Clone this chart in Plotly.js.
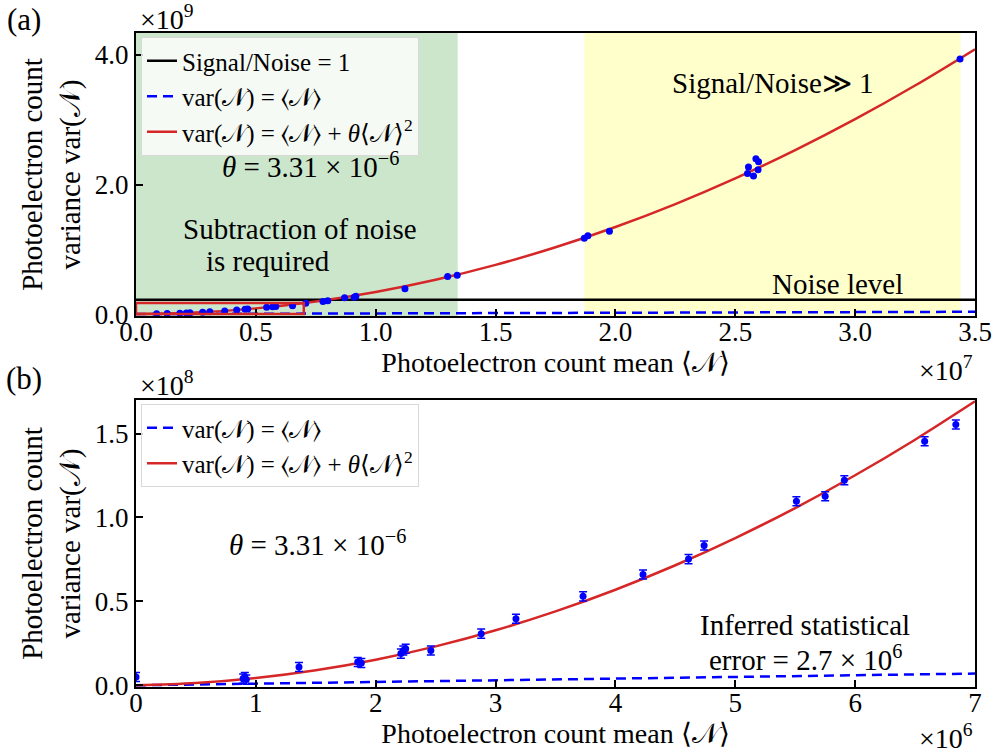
<!DOCTYPE html>
<html>
<head>
<meta charset="utf-8">
<script src="https://cdn.plot.ly/plotly-3.0.1.min.js"></script>
<style>html,body{margin:0;padding:0;background:#fff;}#chart{width:997px;height:755px;}</style>
</head>
<body>
<div id="chart"></div>
<script>
// ---------- Data ----------
// Panel (a): measured mean and variance of photoelectron count
const topMean = [0.086e7, 0.13e7, 0.183e7, 0.21e7, 0.225e7, 0.278e7, 0.308e7, 0.37e7, 0.42e7, 0.455e7, 0.466e7,
  0.545e7, 0.57e7, 0.583e7, 0.653e7, 0.708e7, 0.78e7, 0.80e7, 0.87e7, 0.91e7, 0.917e7, 1.122e7, 1.30e7, 1.34e7,
  1.87e7, 1.885e7, 1.975e7, 2.551e7, 2.576e7, 2.555e7, 2.586e7, 2.597e7, 2.595e7, 3.4375e7];
const topVar = [5e6, 7e6, 1.3e7, 1.7e7, 1.9e7, 2.8e7, 3.4e7, 4.9e7, 6.3e7, 7.3e7, 7.7e7,
  1.04e8, 1.13e8, 1.18e8, 1.30e8, 1.68e8, 1.95e8, 2.05e8, 2.5e8, 2.6e8, 2.75e8, 3.9e8, 5.8e8, 6.0e8,
  1.17e9, 1.21e9, 1.28e9, 2.17e9, 2.13e9, 2.27e9, 2.40e9, 2.35e9, 2.23e9, 3.94e9];
// Panel (a): fitted curve var = <N> + theta <N>^2
const topFitX = [0, 0.25e7, 0.5e7, 0.75e7, 1.0e7, 1.25e7, 1.5e7, 1.75e7, 2.0e7, 2.25e7, 2.5e7, 2.75e7, 3.0e7, 3.25e7, 3.5e7];
const topFitY = [0, 2.32e7, 8.78e7, 1.937e8, 3.41e8, 5.297e8, 7.598e8, 1.031e9, 1.344e9, 1.698e9, 2.094e9, 2.531e9, 3.009e9, 3.529e9, 4.090e9];
// Poisson line var = <N>
const topPoisX = [0, 3.5e7];
const topPoisY = [0, 3.5e7];
// Noise level (Signal/Noise = 1)
const noiseX = [0, 3.5e7];
const noiseY = [2.2e8, 2.2e8];

// Panel (b): zoomed measurements with error bars
const botMean = [0.0, 0.894e6, 0.908e6, 0.92e6, 1.36e6, 1.85e6, 1.88e6, 2.21e6, 2.23e6, 2.25e6, 2.46e6, 2.88e6,
  3.17e6, 3.73e6, 4.23e6, 4.61e6, 4.74e6, 5.51e6, 5.75e6, 5.91e6, 6.58e6, 6.84e6];
const botVar = [5e6, 4.0e6, 5.0e6, 3.4e6, 1.09e7, 1.39e7, 1.33e7, 1.89e7, 2.08e7, 2.18e7, 2.08e7, 3.08e7,
  3.97e7, 5.30e7, 6.60e7, 7.52e7, 8.33e7, 1.097e8, 1.127e8, 1.222e8, 1.454e8, 1.554e8];
const statError = 2.7e6;
const botFitX = [0, 0.5e6, 1.0e6, 1.5e6, 2.0e6, 2.5e6, 3.0e6, 3.5e6, 4.0e6, 4.5e6, 5.0e6, 5.5e6, 6.0e6, 6.5e6, 7.0e6];
const botFitY = [0, 1.33e6, 4.31e6, 8.95e6, 1.524e7, 2.319e7, 3.279e7, 4.405e7, 5.696e7, 7.153e7, 8.775e7, 1.0563e8, 1.2516e8, 1.4635e8, 1.6919e8];
const botPoisX = [0, 7e6];
const botPoisY = [0, 7e6];

// Tick labels
const topXTicks = [0, 0.5e7, 1.0e7, 1.5e7, 2.0e7, 2.5e7, 3.0e7, 3.5e7];
const topXText = ['0.0', '0.5', '1.0', '1.5', '2.0', '2.5', '3.0', '3.5'];
const topYTicks = [0, 2e9, 4e9];
const topYText = ['0.0', '2.0', '4.0'];
const botXTicks = [0, 1e6, 2e6, 3e6, 4e6, 5e6, 6e6, 7e6];
const botXText = ['0', '1', '2', '3', '4', '5', '6', '7'];
const botYTicks = [0, 0.5e8, 1.0e8, 1.5e8];
const botYText = ['0.0', '0.5', '1.0', '1.5'];

// Regions
const greenRegion = [0, 1.342e7];
const yellowRegion = [1.87e7, 3.44e7];
const zoomBox = {x0: 0, x1: 7e6, y0: 0, y1: 1.7e8};

// ---------- Styling / layout ----------
const FONT = 'Liberation Serif, Times New Roman, serif';
const N = '𝒩';
const lblPois = 'var(' + N + ') = ⟨' + N + '⟩';
const lblFit = 'var(' + N + ') = ⟨' + N + '⟩ + <i>θ</i>⟨' + N + '⟩<sup>2</sup>';
const BLUE = '#0000ff', RED = '#d62728';

const W = 997, H = 755, ML = 136, MR = 22, MT = 33, MB = 68;
const PW = W - ML - MR, PH = H - MT - MB;
function P(x, y) { return {xref: 'paper', yref: 'paper', x: (x - ML) / PW, y: (H - MB - y) / PH}; }
function ann(x, y, text, size, extra) {
  return Object.assign(P(x, y), {text: text, showarrow: false, font: {family: FONT, size: size, color: '#000'},
    xanchor: 'center', yanchor: 'middle'}, extra || {});
}

const traces = [
  {x: noiseX, y: noiseY, type: 'scatter', mode: 'lines', name: 'Signal/Noise = 1',
   line: {color: '#000', width: 2.5}, xaxis: 'x', yaxis: 'y', legend: 'legend'},
  {x: topPoisX, y: topPoisY, type: 'scatter', mode: 'lines', name: lblPois,
   line: {color: BLUE, width: 2.5, dash: '10px,6px'}, xaxis: 'x', yaxis: 'y', legend: 'legend'},
  {x: topFitX, y: topFitY, type: 'scatter', mode: 'lines', name: lblFit, line: {color: RED, width: 2.5, shape: 'spline'},
   xaxis: 'x', yaxis: 'y', legend: 'legend'},
  {x: topMean, y: topVar, type: 'scatter', mode: 'markers', showlegend: false,
   marker: {color: BLUE, size: 7}, xaxis: 'x', yaxis: 'y'},

  {x: botPoisX, y: botPoisY, type: 'scatter', mode: 'lines', name: lblPois,
   line: {color: BLUE, width: 2.5, dash: '10px,6px'}, xaxis: 'x2', yaxis: 'y2', legend: 'legend2'},
  {x: botFitX, y: botFitY, type: 'scatter', mode: 'lines', name: lblFit, line: {color: RED, width: 2.5, shape: 'spline'},
   xaxis: 'x2', yaxis: 'y2', legend: 'legend2'},
  {x: botMean, y: botVar, type: 'scatter', mode: 'markers', showlegend: false,
   marker: {color: BLUE, size: 7},
   error_y: {type: 'constant', value: statError, color: BLUE, thickness: 1.5, width: 4},
   xaxis: 'x2', yaxis: 'y2'}
];

const TICKSIZE = 27, TXT = 29;
const axisCommon = {showgrid: false, zeroline: false, showline: true, mirror: true, linecolor: '#000', linewidth: 2,
  ticks: 'inside', ticklen: 7, tickwidth: 2, tickcolor: '#000', tickmode: 'array',
  tickfont: {family: FONT, size: TICKSIZE, color: '#000'}};

const xTitle = {text: 'Photoelectron count mean ⟨' + N + '⟩', font: {family: FONT, size: 28, color: '#000'}, standoff: 2};
const yTitle = {text: 'Photoelectron count<br>variance var(' + N + ')', font: {family: FONT, size: 29, color: '#000'}, standoff: 6};

const topBottom = (H - MB - 316) / PH;
const botTop = (H - MB - 400) / PH;

const legendCommon = {xanchor: 'left', yanchor: 'top', bgcolor: 'rgba(255,255,255,0.8)',
  bordercolor: '#d8d8d8', borderwidth: 1, font: {family: FONT, size: 25, color: '#000'}, tracegroupgap: 0,
  itemwidth: 30};

const layout = {
  width: W, height: H,
  margin: {l: ML, r: MR, t: MT, b: MB},
  paper_bgcolor: '#fff', plot_bgcolor: 'rgba(0,0,0,0)',
  font: {family: FONT, color: '#000'},
  xaxis: Object.assign({}, axisCommon, {domain: [0, 1], range: [0, 3.5e7], tickvals: topXTicks, ticktext: topXText,
    anchor: 'y', title: xTitle, ticklabelstandoff: -9}),
  yaxis: Object.assign({}, axisCommon, {domain: [topBottom, 1], range: [-0.03e9, 4.34e9], tickvals: topYTicks,
    ticktext: topYText, anchor: 'x', title: yTitle}),
  xaxis2: Object.assign({}, axisCommon, {domain: [0, 1], range: [0, 7e6], tickvals: botXTicks, ticktext: botXText,
    anchor: 'y2', title: xTitle, ticklabelstandoff: -9}),
  yaxis2: Object.assign({}, axisCommon, {domain: [0, botTop], range: [-0.01e8, 1.70e8], tickvals: botYTicks,
    ticktext: botYText, anchor: 'x2', title: yTitle}),
  legend: Object.assign(P(141, 37), legendCommon),
  legend2: Object.assign(P(141, 404), legendCommon),
  shapes: [
    {type: 'rect', xref: 'x', yref: 'y domain', x0: greenRegion[0], x1: greenRegion[1], y0: 0, y1: 1,
     fillcolor: 'rgba(0,128,0,0.2)', line: {width: 0}, layer: 'below'},
    {type: 'rect', xref: 'x', yref: 'y domain', x0: yellowRegion[0], x1: yellowRegion[1], y0: 0, y1: 1,
     fillcolor: 'rgba(255,255,0,0.2)', line: {width: 0}, layer: 'below'},
    {type: 'rect', xref: 'x', yref: 'y', x0: zoomBox.x0, x1: zoomBox.x1, y0: zoomBox.y0, y1: zoomBox.y1,
     fillcolor: 'rgba(0,0,0,0)', line: {color: RED, width: 2.5}, layer: 'above'}
  ],
  annotations: [
    ann(24, 20, '(a)', 31),
    ann(138, 17, '×10<sup>9</sup>', 28, {xanchor: 'left'}),
    ann(310, 165, '<i>θ</i> = 3.31 × 10<sup>−6</sup>', TXT),
    ann(300, 229, 'Subtraction of noise', TXT),
    ann(268, 261, 'is required', TXT),
    ann(773, 83, 'Signal/Noise≫ 1', TXT),
    ann(837, 284, 'Noise level', TXT),
    ann(975, 368, '×10<sup>7</sup>', 28, {xanchor: 'right'}),
    ann(24, 378, '(b)', 31),
    ann(138, 383, '×10<sup>8</sup>', 28, {xanchor: 'left'}),
    ann(317, 543, '<i>θ</i> = 3.31 × 10<sup>−6</sup>', TXT),
    ann(805, 625, 'Inferred statistical', TXT),
    ann(805, 658, 'error = 2.7 × 10<sup>6</sup>', TXT),
    ann(975, 737, '×10<sup>6</sup>', 28, {xanchor: 'right'})
  ]
};

Plotly.newPlot('chart', traces, layout, {displayModeBar: false, staticPlot: true});
</script>
</body>
</html>
